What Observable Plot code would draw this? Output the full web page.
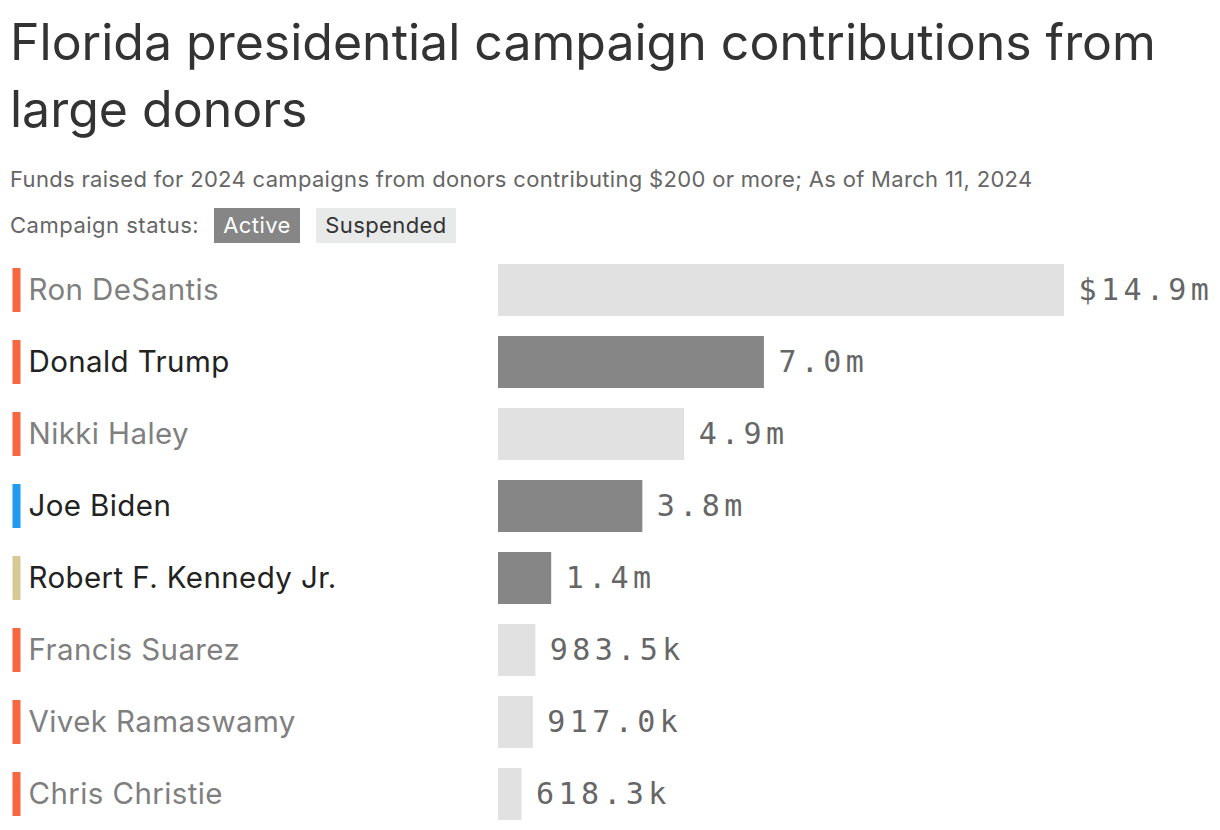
<!DOCTYPE html>
<html>
<head>
<meta charset="utf-8">
<script src="https://cdn.jsdelivr.net/npm/d3@7"></script>
<script src="https://cdn.jsdelivr.net/npm/@observablehq/plot@0.6"></script>
<style>
  html, body { margin: 0; padding: 0; background: #fff; }
  body { width: 1220px; height: 830px; position: relative; overflow: hidden; font-family: Inter, "Noto Sans", sans-serif; }
  #title { position: absolute; left: 10px; top: 9px; width: 1200px; font-size: 50px; line-height: 67px; color: #333; font-weight: 400; letter-spacing: 0px; }
  #subtitle { position: absolute; left: 10px; top: 166px; font-size: 22px; color: #666; letter-spacing: 0.32px; white-space: nowrap; }
  #legend { position: absolute; left: 0; top: 208px; width: 600px; height: 35px; font-size: 22px; color: #666; }
  #legend span { position: absolute; top: 0; height: 35px; line-height: 35px; white-space: nowrap; }
  #legend .lab { left: 10px; letter-spacing: 0.5px; }
  #legend .sw { text-align: center; letter-spacing: 0.4px; }
  #legend .active { left: 214px; width: 86px; background: #858685; color: #fff; }
  #legend .susp { left: 316px; width: 140px; background: #e8e9e9; color: #333; }
  #chart { position: absolute; left: 0; top: 254px; }
  #chart g[font-family*="Mono"] { letter-spacing: 4.4px; }
  #chart g[font-family^="Inter"] { letter-spacing: 0.4px; }
</style>
</head>
<body>
<div id="title">Florida presidential campaign contributions from large donors</div>
<div id="subtitle">Funds raised for 2024 campaigns from donors contributing $200 or more; As of March 11, 2024</div>
<div id="legend"><span class="lab">Campaign status:</span><span class="sw active">Active</span><span class="sw susp">Suspended</span></div>
<div id="chart"></div>
<script>
const candidates = ["Ron DeSantis", "Donald Trump", "Nikki Haley", "Joe Biden", "Robert F. Kennedy Jr.", "Francis Suarez", "Vivek Ramaswamy", "Chris Christie"];
const amounts = [14900000, 7000000, 4900000, 3800000, 1400000, 983500, 917000, 618300];
const statuses = ["Suspended", "Active", "Suspended", "Active", "Active", "Suspended", "Suspended", "Suspended"];
const parties = ["Republican", "Republican", "Republican", "Democrat", "Independent", "Republican", "Republican", "Republican"];

const statusColors = {Active: "#858685", Suspended: "#e0e1e0"};
const nameColors = {Active: "#222222", Suspended: "#7f7f7f"};
const partyColors = {Republican: "#f7663f", Democrat: "#1f9cf0", Independent: "#d6c995"};

const data = candidates.map((name, i) => ({name, amount: amounts[i], status: statuses[i], party: parties[i], i}));

function fmt(d) {
  const v = d.amount;
  const s = v >= 1e6 ? (v / 1e6).toFixed(1) + "m" : (v / 1e3).toFixed(1) + "k";
  return d.i === 0 ? "$" + s : s;
}

const chart = Plot.plot({
  width: 1220,
  height: 576,
  marginLeft: 498,
  marginRight: 156,
  marginTop: 0,
  marginBottom: 0,
  x: {domain: [0, d3.max(amounts)], axis: null},
  y: {domain: candidates, axis: null, paddingInner: 20 / 72, paddingOuter: 10 / 72},
  marks: [
    Plot.barX(data, {x: "amount", y: "name", fill: d => statusColors[d.status]}),
    Plot.tickX(data, {x: () => 0, y: "name", dx: -482, stroke: d => partyColors[d.party], strokeWidth: 8, insetTop: 4, insetBottom: 4}),
    Plot.text(data, {y: "name", frameAnchor: "left", dx: -470, text: "name", textAnchor: "start", fill: d => nameColors[d.status], fontSize: 29.5, fontFamily: "Inter, 'Noto Sans', sans-serif"}),
    Plot.text(data, {x: "amount", y: "name", text: fmt, textAnchor: "start", dx: 14, fill: "#666666", fontSize: 30, fontFamily: "'DejaVu Sans Mono', monospace"})
  ]
});
document.getElementById("chart").appendChild(chart);
</script>
</body>
</html>
